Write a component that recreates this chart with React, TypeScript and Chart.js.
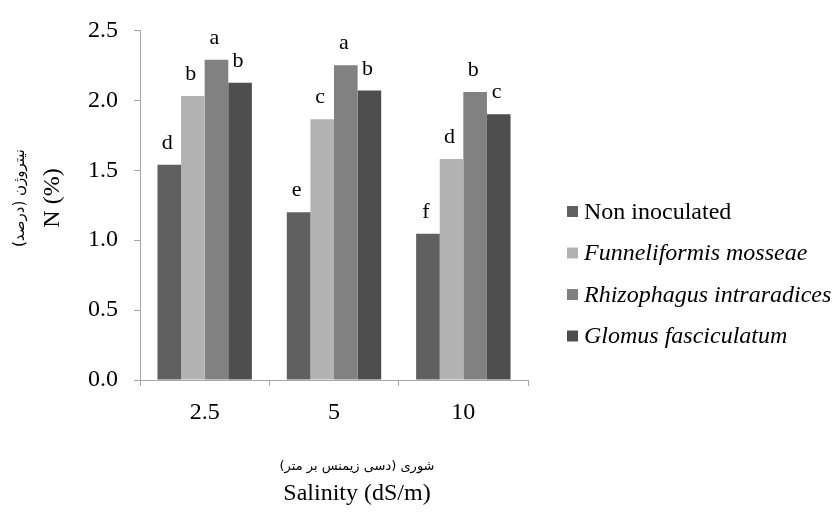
import React, { useEffect, useRef } from "react";
import { Chart, registerables } from "chart.js";

Chart.register(...registerables);

const categories = ["2.5", "5", "10"];
const seriesNames = ["Non inoculated", "Funneliformis mosseae", "Rhizophagus intraradices", "Glomus fasciculatum"];
const nonInoculated = [1.54, 1.2, 1.045];
const funneliformis = [2.03, 1.865, 1.58];
const rhizophagus = [2.29, 2.25, 2.06];
const glomus = [2.125, 2.07, 1.9];
const lettersNon = ["d", "e", "f"];
const lettersFun = ["b", "c", "d"];
const lettersRhi = ["a", "a", "b"];
const lettersGlo = ["b", "b", "c"];
const colors = ["#606060", "#b3b3b3", "#818181", "#4e4e4e"];
const italicSeries = [false, true, true, true];
const yTitleFa = "نیتروژن (درصد)";
const yTitleEn = "N (%)";
const xTitleFa = "شوری (دسی زیمنس بر متر)";
const xTitleEn = "Salinity (dS/m)";

const SERIF = "'Liberation Serif', 'Times New Roman', serif";

export default function App() {
  const ref = useRef<HTMLCanvasElement>(null);
  useEffect(() => {
    document.body.style.margin = "0";
    const letters = [lettersNon, lettersFun, lettersRhi, lettersGlo];
    const decor = {
      id: "decor",
      afterDraw(chart: any) {
        const ctx = chart.ctx;
        ctx.save();
        // letters above bars
        ctx.fillStyle = "#000";
        ctx.font = `22px ${SERIF}`;
        ctx.textAlign = "center";
        ctx.textBaseline = "alphabetic";
        chart.data.datasets.forEach((ds: any, di: number) => {
          const meta = chart.getDatasetMeta(di);
          meta.data.forEach((bar: any, i: number) => {
            ctx.fillText(letters[di][i], bar.x - 2, bar.y - 16);
          });
        });
        // legend
        const lx = 567;
        const ly0 = 211.5;
        const step = 41.5;
        chart.data.datasets.forEach((ds: any, di: number) => {
          const y = ly0 + di * step;
          ctx.fillStyle = ds.backgroundColor;
          ctx.fillRect(lx, y - 5.5, 11, 11);
          ctx.fillStyle = "#000";
          ctx.font = `${italicSeries[di] ? "italic " : ""}24px ${SERIF}`;
          ctx.textAlign = "left";
          ctx.textBaseline = "alphabetic";
          ctx.fillText(ds.label, lx + 17, y + 7);
        });
        // y title
        ctx.save();
        ctx.translate(20, 198);
        ctx.rotate(-Math.PI / 2);
        ctx.textAlign = "center";
        ctx.textBaseline = "middle";
        ctx.font = `15px 'DejaVu Sans', sans-serif`;
        ctx.fillText(yTitleFa, 0, 0);
        ctx.font = `24px ${SERIF}`;
        ctx.fillText(yTitleEn, 0, 33);
        ctx.restore();
        // x title
        ctx.textAlign = "center";
        ctx.textBaseline = "middle";
        ctx.font = `13px 'DejaVu Sans', sans-serif`;
        ctx.fillText(xTitleFa, 357, 467);
        ctx.font = `24px ${SERIF}`;
        ctx.textBaseline = "alphabetic";
        ctx.fillText(xTitleEn, 357, 500);
        ctx.restore();
      },
    };
    const chart = new Chart(ref.current as HTMLCanvasElement, {
      type: "bar",
      data: {
        labels: categories,
        datasets: [nonInoculated, funneliformis, rhizophagus, glomus].map((d, i) => ({
          label: seriesNames[i],
          data: d,
          backgroundColor: colors[i],
          borderWidth: 0,
          barPercentage: 1,
          categoryPercentage: 0.73,
        })),
      },
      options: {
        animation: false,
        responsive: false,
        layout: { padding: { left: 0, right: 310, top: 29, bottom: 0 } },
        plugins: { legend: { display: false }, tooltip: { enabled: false } },
        scales: {
          x: {
            afterFit(scale: any) {
              scale.height = 132;
            },
            grid: {
              display: true,
              offset: true,
              drawOnChartArea: false,
              tickLength: 6,
              color: "#a6a6a6",
            },
            border: { color: "#a6a6a6" },
            ticks: { color: "#000", font: { family: SERIF, size: 24 }, padding: 12 },
          },
          y: {
            min: 0,
            max: 2.5,
            afterFit(scale: any) {
              scale.width = 140;
            },
            grid: { display: true, drawOnChartArea: false, tickLength: 6, color: "#a6a6a6" },
            border: { color: "#a6a6a6" },
            ticks: {
              stepSize: 0.5,
              color: "#000",
              font: { family: SERIF, size: 24 },
              padding: 16,
              callback: (v: any) => Number(v).toFixed(1),
            },
          },
        },
      },
      plugins: [decor],
    });
    return () => chart.destroy();
  }, []);
  return <canvas ref={ref} width={838} height={512} style={{ display: "block" }} />;
}
